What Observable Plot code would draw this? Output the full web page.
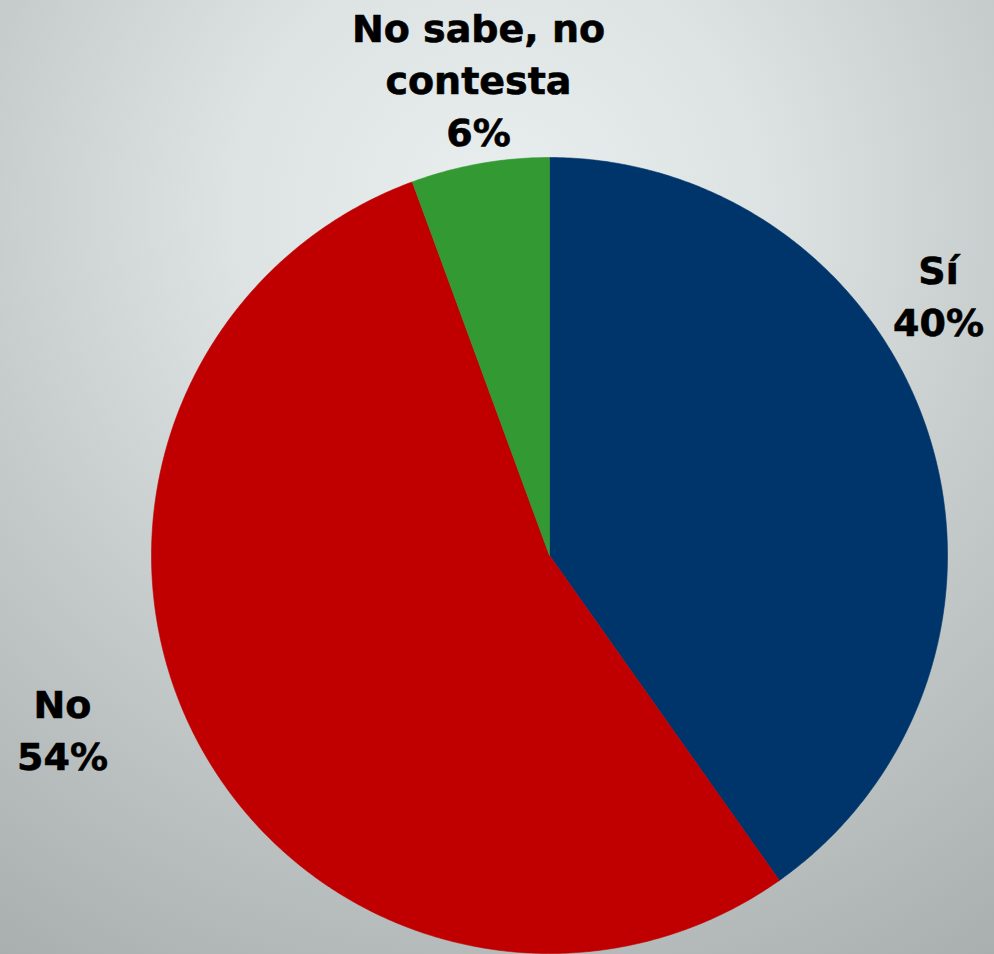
<!DOCTYPE html>
<html>
<head>
<meta charset="utf-8">
<script src="https://cdn.jsdelivr.net/npm/d3@7"></script>
<script src="https://cdn.jsdelivr.net/npm/@observablehq/plot@0.6"></script>
<style>
  html, body { margin: 0; padding: 0; }
  body {
    width: 994px; height: 954px; overflow: hidden;
    background: radial-gradient(circle farthest-corner at 50% 22%, #e9eeee 0%, #dde3e3 30%, #c5cbcb 60%, #a9aeae 100%);
  }
</style>
</head>
<body>
<div id="chart"></div>
<script>
// ---- data ----
const categories = ["Sí", "No", "No sabe, no contesta"];
const values = [40.2, 54.2, 5.6];
const colors = ["#00356b", "#c00000", "#339933"];
// label text lines (category name wrapped as in the original)
const labelNames = ["Sí", "No", "No sabe, no\ncontesta"];

// ---- layout ----
const W = 994, H = 954;
const cx = 549, cy = 555, R = 398;
// label anchor points (pixels)
const labelAnchors = [[938, 293], [62, 727], [478, 77]];

const pie = d3.pie().sort(null).value(d => d.value);
const slices = pie(categories.map((c, i) => ({category: c, value: values[i]})));

const pts = [];
slices.forEach(s => {
  const n = Math.max(8, Math.ceil((s.endAngle - s.startAngle) / (Math.PI / 360)));
  pts.push({category: s.data.category, x: cx, y: cy});
  for (let k = 0; k <= n; k++) {
    const a = s.startAngle + (s.endAngle - s.startAngle) * k / n;
    pts.push({category: s.data.category, x: cx + R * Math.sin(a), y: cy - R * Math.cos(a)});
  }
  pts.push({category: s.data.category, x: cx, y: cy});
});

const labels = slices.map((s, i) => ({
  category: s.data.category,
  text: labelNames[i] + "\n" + Math.round(s.data.value) + "%",
  x: labelAnchors[i][0],
  y: labelAnchors[i][1]
}));

const chart = Plot.plot({
  width: W,
  height: H,
  margin: 0,
  x: {domain: [0, W], range: [0, W], axis: null},
  y: {domain: [0, H], range: [0, H], axis: null},
  color: {domain: categories, range: colors},
  style: {background: "transparent", overflow: "visible"},
  marks: [
    Plot.line(pts, {x: "x", y: "y", z: "category", fill: "category", stroke: "category", strokeWidth: 0.6, curve: "linear"}),
    Plot.text(labels, {
      x: "x", y: "y", text: "text",
      fontSize: 38, fontWeight: "bold", fontFamily: "DejaVu Sans, Verdana, sans-serif",
      lineHeight: 1.36, fill: "#000", stroke: "#000", strokeWidth: 0.6,
      textAnchor: "middle", lineAnchor: "middle"
    })
  ]
});
document.getElementById("chart").appendChild(chart);
</script>
</body>
</html>
